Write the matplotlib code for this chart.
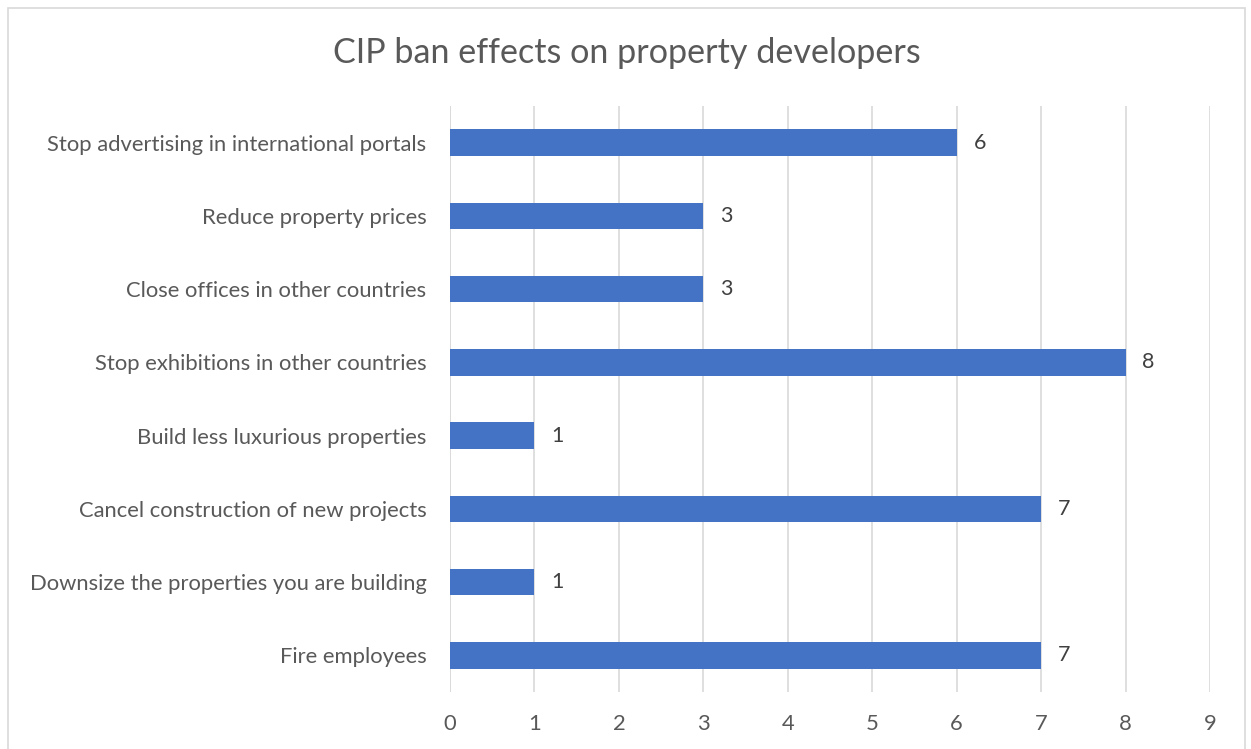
import matplotlib.pyplot as plt
from matplotlib.patches import Rectangle

# categories listed bottom to top (as drawn on the y axis)
categories = [
    "Fire employees",
    "Downsize the properties you are building",
    "Cancel construction of new projects",
    "Build less luxurious properties",
    "Stop exhibitions in other countries",
    "Close offices in other countries",
    "Reduce property prices",
    "Stop advertising in international portals",
]
values = [7, 1, 7, 1, 8, 3, 3, 6]
x_ticks = list(range(0, 10))

bar_color = "#4472C4"
text_color = "#595959"
grid_color = "#D9D9D9"

plt.rcParams["font.family"] = ["Lato", "DejaVu Sans"]

fig = plt.figure(figsize=(12.51, 7.49), dpi=100)
ax = fig.add_axes([450 / 1251, 1 - 692 / 749, 760 / 1251, 586 / 749])

# chart border
fig.patches.append(Rectangle((8 / 1251, -0.01), 1237 / 1251, 1 - 8 / 749 + 0.01,
                             transform=fig.transFigure, fill=False,
                             edgecolor="#D9D9D9", linewidth=1.2))

y = range(len(categories))
ax.barh(y, values, height=0.36, color=bar_color, zorder=3)
for i, v in zip(y, values):
    ax.text(v + 0.2, i, str(v), va="center", ha="left", fontsize=15.5, color="#404040")

ax.set_xlim(0, 9)
ax.set_ylim(-0.5, len(categories) - 0.5)
ax.set_xticks(x_ticks)
ax.set_yticks(list(y))
ax.set_yticklabels(categories)
ax.tick_params(axis="both", length=0, labelsize=15.8, labelcolor=text_color)
ax.tick_params(axis="x", pad=16)
ax.tick_params(axis="y", pad=17)
ax.grid(axis="x", color=grid_color, linewidth=1.2, zorder=0)
for s in ax.spines.values():
    s.set_visible(False)
ax.axvline(0, color=grid_color, linewidth=1.2, zorder=1)

fig.text(627 / 1251, 1 - 53 / 749, "CIP ban effects on property developers",
         ha="center", va="center", fontsize=24.6, color=text_color)

fig.savefig("out.png", dpi=100)
